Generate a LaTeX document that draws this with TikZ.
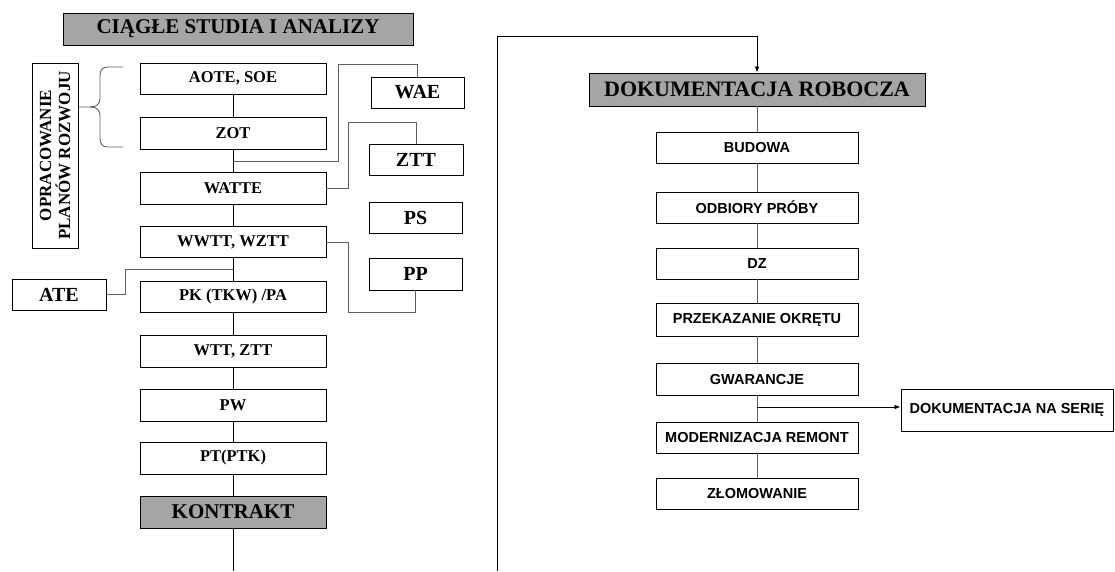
\documentclass[tikz,border=0pt]{standalone}
\usepackage{fontspec}
\setmainfont{Liberation Serif}
\newfontfamily\arialfont{Liberation Sans}
\usetikzlibrary{arrows.meta}
\definecolor{headfill}{RGB}{165,165,165}
\definecolor{connline}{RGB}{95,95,95}
\begin{document}
\begin{tikzpicture}[x=1pt,y=-1pt,
  box/.style={draw=black,line width=0.9pt,fill=white,inner sep=1pt,anchor=center},
  serifbox/.style={box,font=\fontsize{16.5}{18}\selectfont\bfseries},
  sidebox/.style={box,minimum width=93pt,minimum height=31pt,font=\fontsize{20}{22}\selectfont\bfseries},
  headbox/.style={box,fill=headfill,font=\fontsize{21}{23}\selectfont\bfseries},
  sansbox/.style={box,minimum width=202pt,minimum height=31pt,font=\arialfont\fontsize{14.5}{16}\selectfont\bfseries},
  mainline/.style={draw=black,line width=0.8pt},
  sideline/.style={draw=connline,line width=0.9pt},
  arr/.style={-{Latex[length=6pt,width=4.5pt]}}]
\useasboundingbox (0,0) rectangle (1115,571);

% left column: studies up to the contract
\node[headbox,minimum width=350pt,minimum height=32pt] (studia) at (238,29) {CIĄGŁE STUDIA I ANALIZY};
\node[serifbox,minimum width=186pt,minimum height=31pt] (aote) at (233,78.5) {AOTE, SOE};
\node[serifbox,minimum width=186pt,minimum height=32pt] (zot) at (233,133) {ZOT};
\node[serifbox,minimum width=186pt,minimum height=32pt] (watte) at (233,188) {WATTE};
\node[serifbox,minimum width=186pt,minimum height=31pt] (wwtt) at (233,242) {WWTT, WZTT};
\node[serifbox,minimum width=186pt,minimum height=31pt] (pk) at (233,296.5) {PK (TKW) /PA};
\node[serifbox,minimum width=186pt,minimum height=32pt] (wtt) at (233,351) {WTT, ZTT};
\node[serifbox,minimum width=186pt,minimum height=32pt] (pw) at (233,405) {PW};
\node[serifbox,minimum width=186pt,minimum height=32pt] (pt) at (233,458) {PT(PTK)};
\node[headbox,minimum width=186pt,minimum height=32pt] (kontrakt) at (233,512) {KONTRAKT};
\coordinate (kend) at (233,571);

% side boxes
\node[sidebox] (wae) at (417.5,92.5) {WAE};
\node[sidebox,minimum width=94pt] (ztt) at (416,159.5) {ZTT};
\node[sidebox] (ps) at (415.5,217.5) {PS};
\node[sidebox,minimum height=32pt] (pp) at (415.5,274) {PP};
\node[sidebox,minimum width=94pt] (ate) at (59,294.5) {ATE};

% rotated label with its brace
\node[box,rotate=90,minimum width=185pt,minimum height=46pt,align=center,
      font=\fontsize{17}{19}\selectfont\bfseries] (plany) at (55,155.5) {OPRACOWANIE\\PLANÓW ROZWOJU};
\draw[sideline] (123,67) -- (108,67) .. controls (102,67) and (100,70) .. (100,76) -- (100,98)
  .. controls (100,104) and (97,107) .. (90,107) -- (plany.south |- 0,107);
\draw[sideline] (90,107) .. controls (97,107) and (100,110) .. (100,116) -- (100,138)
  .. controls (100,144) and (102,147) .. (108,147) -- (123,147);

% main chain
\draw[mainline] (aote) -- (zot);
\draw[mainline] (zot) -- (watte);
\draw[mainline] (watte) -- (wwtt);
\draw[mainline] (wwtt) -- (pk);
\draw[mainline] (pk) -- (wtt);
\draw[mainline] (wtt) -- (pw);
\draw[mainline] (pw) -- (pt);
\draw[mainline] (pt) -- (kontrakt);
\draw[mainline] (kontrakt) -- (kend);

% side branches
\coordinate (jwae) at (233,161);
\coordinate (jate) at (233,269);
\draw[sideline] (jwae) -- (338,161) -- (338,64) -- (wae.north |- 0,64) -- (wae.north);
\draw[sideline] (watte.east) -- (348,188) -- (348,122) -- (ztt.north |- 0,122) -- (ztt.north);
\draw[sideline] (wwtt.east) -- (348,242) -- (348,312) -- (pp.south |- 0,312) -- (pp.south);
\draw[sideline] (ate.east) -- (125,294.5) -- (125,269) -- (jate);

% right column: from working documentation onwards
\coordinate (loopstart) at (497,571);
\node[headbox,minimum width=336pt,minimum height=33pt,font=\fontsize{22}{24}\selectfont\bfseries] (dokrob) at (757,89.5) {DOKUMENTACJA ROBOCZA};
\node[sansbox] (budowa) at (757,147.5) {BUDOWA};
\node[sansbox] (odbiory) at (757,207.5) {ODBIORY PRÓBY};
\node[sansbox] (dz) at (757,263.5) {DZ};
\node[sansbox,minimum height=33pt] (przek) at (757,319.5) {PRZEKAZANIE OKRĘTU};
\node[sansbox,minimum height=32pt] (gwar) at (757,379) {GWARANCJE};
\node[sansbox] (modern) at (757,437.5) {MODERNIZACJA REMONT};
\node[sansbox] (zlom) at (757,493.5) {ZŁOMOWANIE};
\node[sansbox,minimum width=212pt,minimum height=42pt] (seria) at (1007,410) {DOKUMENTACJA NA SERIĘ};

\draw[mainline,arr] (loopstart) -- (497,36) -- (dokrob.north |- 0,36) -- (dokrob.north);
\draw[sideline] (dokrob) -- (budowa);
\draw[sideline] (budowa) -- (odbiory);
\draw[sideline] (odbiory) -- (dz);
\draw[sideline] (dz) -- (przek);
\draw[sideline] (przek) -- (gwar);
\draw[sideline] (gwar) -- (modern);
\draw[sideline] (modern) -- (zlom);
\coordinate (jseria) at (757,407);
\draw[mainline,arr] (jseria) -- (jseria -| seria.west);
\end{tikzpicture}
\end{document}
